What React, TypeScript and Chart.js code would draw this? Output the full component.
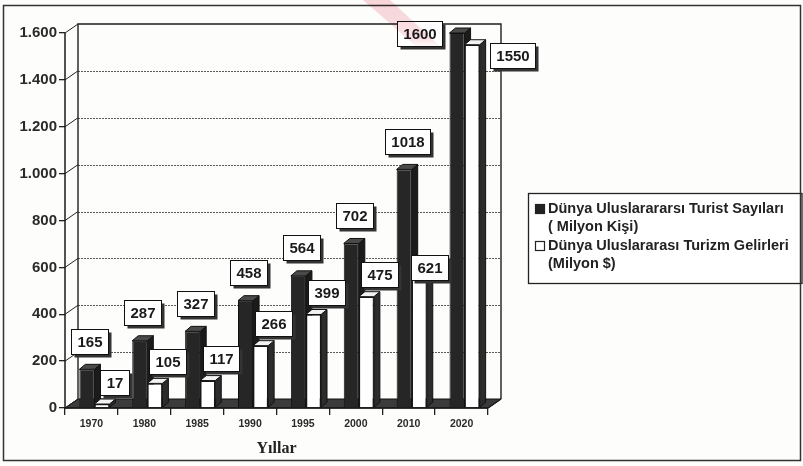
import React, { useEffect, useRef } from 'react';
import { Chart, registerables } from 'chart.js';

Chart.register(...registerables);

// ---- data -------------------------------------------------------------
const years = ['1970', '1980', '1985', '1990', '1995', '2000', '2010', '2020'];
const touristArrivals = [165, 287, 327, 458, 564, 702, 1018, 1600];
const tourismReceipts = [17, 105, 117, 266, 399, 475, 621, 1550];
const yTicks = [0, 200, 400, 600, 800, 1000, 1200, 1400, 1600];
const arrivalsLegend = ['Dünya Uluslarararsı Turist Sayıları', '( Milyon Kişi)'];
const receiptsLegend = ['Dünya Uluslararası Turizm Gelirleri', '(Milyon $)'];
const xAxisTitle = 'Yıllar';

// ---- look -------------------------------------------------------------
const W = 803;
const H = 466;
const SANS = "'Liberation Sans', Arial, Helvetica, sans-serif";
const SERIF = "'Liberation Serif', 'Times New Roman', serif";
const WALL_DX = 13; // depth of the floor / back wall
const WALL_DY = 9;
const BAR_DX = 6; // depth of each bar
const BAR_DY = 5;
const BAR_SHIFT = 3; // front faces sit a little right of the category centre

const fmtThousands = (v: number) => String(v).replace(/\B(?=(\d{3})+(?!\d))/g, '.');

function poly(ctx: CanvasRenderingContext2D, pts: number[][], fill: any, stroke?: string) {
  ctx.beginPath();
  ctx.moveTo(pts[0][0], pts[0][1]);
  for (let i = 1; i < pts.length; i++) ctx.lineTo(pts[i][0], pts[i][1]);
  ctx.closePath();
  ctx.fillStyle = fill;
  ctx.fill();
  if (stroke) {
    ctx.strokeStyle = stroke;
    ctx.stroke();
  }
}

function line(ctx: CanvasRenderingContext2D, x1: number, y1: number, x2: number, y2: number) {
  ctx.beginPath();
  ctx.moveTo(x1, y1);
  ctx.lineTo(x2, y2);
  ctx.stroke();
}

// where each value box goes, relative to its bar
function labelCenter(ds: number, i: number, el: any) {
  const left = el.x - el.width / 2;
  const right = el.x + el.width / 2;
  if (ds === 0) {
    if (i === years.length - 1) return { cx: left - 30, cy: el.y };
    return { cx: el.x + 3, cy: el.y - 28 };
  }
  if (i === years.length - 1) return { cx: right + 33, cy: el.y + 11 };
  if (i === years.length - 2) return { cx: el.x + 10, cy: el.y + 5 };
  return { cx: el.x + 13, cy: el.y - 22 };
}

const scenePlugin = {
  id: 'scene3d',
  beforeDraw(chart: any) {
    const { ctx } = chart;
    ctx.save();
    ctx.fillStyle = '#fdfdfb';
    ctx.fillRect(0, 0, W, H);
    ctx.restore();
  },
  afterDatasetsUpdate(chart: any) {
    for (let d = 0; d < chart.data.datasets.length; d++) {
      chart.getDatasetMeta(d).data.forEach((el: any) => {
        el.x += BAR_SHIFT;
      });
    }
  },
  beforeDatasetsDraw(chart: any) {
    const { ctx, chartArea: a, scales } = chart;
    const y = scales.y;
    ctx.save();
    ctx.lineWidth = 1;

    // back-wall grid lines
    ctx.strokeStyle = '#5a5a5a';
    ctx.setLineDash([2, 1]);
    yTicks.slice(1, -1).forEach((v) => {
      const py = Math.round(y.getPixelForValue(v) - WALL_DY) + 0.5;
      line(ctx, a.left + WALL_DX, py, a.right + WALL_DX, py);
    });
    ctx.setLineDash([]);

    // side wall: slanted links from the axis to the back wall
    ctx.strokeStyle = '#222';
    yTicks.forEach((v) => {
      const py = y.getPixelForValue(v);
      line(ctx, a.left, py, a.left + WALL_DX, py - WALL_DY);
    });

    // back wall outline
    ctx.lineWidth = 1.4;
    ctx.strokeStyle = '#1e1e1e';
    ctx.beginPath();
    ctx.moveTo(a.left + WALL_DX, a.bottom - WALL_DY);
    ctx.lineTo(a.left + WALL_DX, a.top - WALL_DY);
    ctx.lineTo(a.right + WALL_DX, a.top - WALL_DY);
    ctx.lineTo(a.right + WALL_DX, a.bottom - WALL_DY);
    ctx.stroke();

    // floor
    ctx.lineWidth = 1;
    poly(
      ctx,
      [
        [a.left, a.bottom],
        [a.right, a.bottom],
        [a.right + WALL_DX, a.bottom - WALL_DY],
        [a.left + WALL_DX, a.bottom - WALL_DY],
      ],
      '#3b3b3b',
      '#151515'
    );

    // bar tops and right-hand sides (front faces are drawn by the library)
    for (let d = 0; d < chart.data.datasets.length; d++) {
      const dark = d === 0;
      chart.getDatasetMeta(d).data.forEach((el: any) => {
        const x0 = el.x - el.width / 2;
        const x1 = el.x + el.width / 2;
        const top = el.y;
        const base = el.base;
        poly(
          ctx,
          [
            [x1, top],
            [x1 + BAR_DX, top - BAR_DY],
            [x1 + BAR_DX, base - BAR_DY],
            [x1, base],
          ],
          dark ? '#1b1b1b' : '#2c2c2c',
          '#111'
        );
        poly(
          ctx,
          [
            [x0, top],
            [x0 + BAR_DX, top - BAR_DY],
            [x1 + BAR_DX, top - BAR_DY],
            [x1, top],
          ],
          dark ? '#4a4a4a' : '#f2f2f2',
          '#111'
        );
      });
    }
    ctx.restore();
  },
  afterDatasetsDraw(chart: any) {
    const { ctx, chartArea: a } = chart;
    ctx.save();

    // floor front edge and axis lines on top of the floor fill
    ctx.strokeStyle = '#1a1a1a';
    ctx.lineWidth = 1.5;
    line(ctx, a.left, a.bottom, a.right, a.bottom);
    line(ctx, a.right, a.bottom, a.right + WALL_DX, a.bottom - WALL_DY);
    line(ctx, a.left, a.top, a.left, a.bottom);

    // value boxes
    ctx.font = `bold 15px ${SANS}`;
    ctx.textAlign = 'center';
    ctx.textBaseline = 'middle';
    const series = [touristArrivals, tourismReceipts];
    series.forEach((vals, d) => {
      chart.getDatasetMeta(d).data.forEach((el: any, i: number) => {
        const text = String(vals[i]);
        const { cx, cy } = labelCenter(d, i, el);
        const w = Math.round(ctx.measureText(text).width + 12);
        const h = 25;
        const bx = Math.round(cx - w / 2) + 0.5;
        const by = Math.round(cy - h / 2) + 0.5;
        ctx.fillStyle = '#333';
        ctx.fillRect(bx + 3, by + 3, w, h);
        ctx.fillStyle = '#fff';
        ctx.fillRect(bx, by, w, h);
        ctx.lineWidth = 1;
        ctx.strokeStyle = '#111';
        ctx.strokeRect(bx, by, w, h);
        ctx.fillStyle = '#1a1a1a';
        ctx.fillText(text, bx + w / 2, by + h / 2 + 1);
      });
    });

    // legend
    const lx = 528.5;
    const ly = 193.5;
    ctx.lineWidth = 1.3;
    ctx.strokeStyle = '#222';
    ctx.fillStyle = '#fff';
    ctx.fillRect(lx, ly, 802 - lx, 90);
    ctx.strokeRect(lx, ly, 802 - lx, 90);
    ctx.font = `bold 14.5px ${SANS}`;
    ctx.textAlign = 'left';
    ctx.textBaseline = 'middle';
    const entries = [
      { lines: arrivalsLegend, y: 209, fill: '#222' },
      { lines: receiptsLegend, y: 246, fill: '#fff' },
    ];
    entries.forEach((e) => {
      ctx.fillStyle = e.fill;
      ctx.fillRect(535.5, e.y - 4.5, 9, 9);
      ctx.lineWidth = 1.2;
      ctx.strokeStyle = '#222';
      ctx.strokeRect(535.5, e.y - 4.5, 9, 9);
      ctx.fillStyle = '#222';
      e.lines.forEach((t, k) => ctx.fillText(t, 548, e.y + k * 18));
    });

    // outer frame
    ctx.lineWidth = 1.5;
    ctx.strokeStyle = '#333';
    ctx.strokeRect(3.5, 5.5, 797, 455);

    // faint pink stamp stripe across the top of the tall pair
    ctx.globalCompositeOperation = 'multiply';
    const g = ctx.createLinearGradient(0, 0, 0, 48);
    g.addColorStop(0, 'rgba(238,150,165,0.38)');
    g.addColorStop(0.8, 'rgba(238,160,172,0.32)');
    g.addColorStop(1, 'rgba(238,170,180,0)');
    poly(ctx, [[363, 0], [390, 0], [442, 48], [418, 48]], g);
    ctx.restore();
  },
};

export default function App() {
  const ref = useRef<HTMLCanvasElement | null>(null);

  useEffect(() => {
    if (!ref.current) return;
    const chart = new Chart(ref.current, {
      type: 'bar',
      data: {
        labels: years,
        datasets: [
          {
            label: arrivalsLegend.join(' '),
            data: touristArrivals,
            backgroundColor: '#262626',
            borderColor: '#111',
            borderWidth: 1,
            categoryPercentage: 0.57,
            barPercentage: 1,
          },
          {
            label: receiptsLegend.join(' '),
            data: tourismReceipts,
            backgroundColor: '#ffffff',
            borderColor: '#161616',
            borderWidth: 1.3,
            categoryPercentage: 0.57,
            barPercentage: 1,
          },
        ],
      },
      options: {
        responsive: false,
        animation: false,
        devicePixelRatio: 1,
        layout: { padding: { left: 8, right: W - 488, top: 33, bottom: 8 } },
        plugins: {
          legend: { display: false },
          tooltip: { enabled: false },
        },
        scales: {
          x: {
            afterFit: (s: any) => {
              s.height = 50;
            },
            grid: {
              drawOnChartArea: false,
              drawTicks: true,
              tickLength: 7,
              color: '#222',
              lineWidth: 1.3,
            },
            border: { display: false },
            ticks: {
              color: '#2a2a2a',
              font: { family: SANS, size: 10.5, weight: 'bold' },
              padding: 3,
            },
            title: {
              display: true,
              text: xAxisTitle,
              color: '#222',
              font: { family: SERIF, size: 16, weight: 'bold' },
              padding: { top: 4, bottom: 0 },
            },
          },
          y: {
            min: 0,
            max: 1600,
            afterFit: (s: any) => {
              s.width = 57;
            },
            afterBuildTicks: (s: any) => {
              s.ticks = yTicks.map((v) => ({ value: v }));
            },
            grid: {
              drawOnChartArea: false,
              drawTicks: true,
              tickLength: 6,
              color: '#222',
              lineWidth: 1.3,
            },
            border: { display: false },
            ticks: {
              color: '#2a2a2a',
              font: { family: SANS, size: 15, weight: 'bold' },
              padding: 2,
              callback: (v: any) => fmtThousands(Number(v)),
            },
          },
        },
      },
      plugins: [scenePlugin],
    });
    return () => chart.destroy();
  }, []);

  return (
    <div style={{ position: 'fixed', left: 0, top: 0, width: W, height: H, background: '#fdfdfb' }}>
      <canvas ref={ref} width={W} height={H} style={{ display: 'block', width: W, height: H }} />
    </div>
  );
}
